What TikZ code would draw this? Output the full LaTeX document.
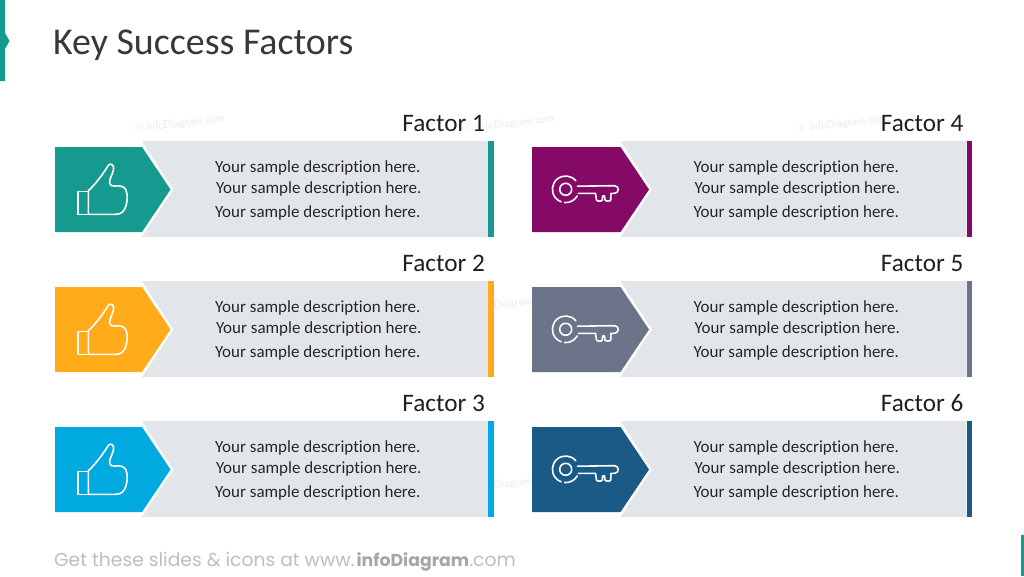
\documentclass[tikz,border=0pt]{standalone}
\usepackage{fontspec}
\setmainfont[Ligatures=NoCommon]{Carlito}
\newfontfamily\footfont{Poppins}
\definecolor{cteal}{HTML}{159A8F}
\definecolor{corange}{HTML}{FFAB1A}
\definecolor{cblue}{HTML}{00A9E0}
\definecolor{cpurple}{HTML}{850A68}
\definecolor{cslate}{HTML}{6B7488}
\definecolor{cnavy}{HTML}{1A5A86}
\definecolor{cband}{HTML}{E2E5EA}
\definecolor{cmark}{HTML}{E3E9F4}
\definecolor{cfoot}{HTML}{BEBEBE}
\definecolor{cfootb}{HTML}{A6A6A6}
\newcommand{\pxfont}[1]{\fontsize{#1}{#1}\selectfont}
\tikzset{
  x=1pt,y=-1pt,
  band/.style={fill=cband,draw=none},
  icon/.style={draw=white,line width=1.6pt,line cap=round,line join=round},
  desc/.style={anchor=base west,inner sep=0pt,text=black!85,font=\pxfont{17}},
  head/.style={anchor=base east,inner sep=0pt,text=black!88,font=\pxfont{25.2}},
  wmark/.style={rotate=7,inner sep=0pt,text=cmark,font=\sffamily\pxfont{11.2}},
}
% #1 name, #2 dx, #3 dy, #4 colour, #5 label, #6 left edge of the arrow
\newcommand{\factorbase}[6]{%
  \begin{scope}[shift={(#2,#3)}]
    \fill[band] (142,141) -- (488,141) -- (488,237) -- (142,237) -- (173.5,189.5) -- cycle;
    \fill[#4] (488,141) rectangle (493.5,237);
    \fill[#4] (142,147) -- (170.5,189.5) -- (142,232) -- (#6,232) -- (#6,147) -- cycle;
    \node[head] (#1h) at (485,131) {#5};
    \node[desc] (#1a) at (215,172.5) {Your sample description here.};
    \node[desc] (#1b) at (216,193.5) {Your sample description here.};
    \node[desc] (#1c) at (215,217.5) {Your sample description here.};
  \end{scope}}
\newcommand{\thumbicon}[2]{%
  \begin{scope}[shift={(#1,#2)}]
    \draw[icon] (88,191.5) -- (77.7,191.5) -- (77.7,214.3) -- (88,214.3);
    \draw[icon] (88.3,214.3) -- (88.3,190.7) .. controls (94,186) and (103,174) .. (107,167.5)
      .. controls (108.5,163.5) and (112,163) .. (113.5,166.5)
      .. controls (115,171) and (109,178) .. (109.5,183)
      .. controls (110,186) and (112,186) .. (115,186)
      .. controls (120,185.5) and (124,186) .. (126,190)
      .. controls (128.5,196) and (127,205) .. (124.5,209.5)
      .. controls (122,213.5) and (119,214.3) .. (115,214.3) -- cycle;
  \end{scope}}
\newcommand{\keyicon}[2]{%
  \begin{scope}[shift={(#1,#2)}]
    \draw[icon] (565.7,189.3) circle[radius=6];
    \draw[icon] (565.7,189.3) ++(-40:13.3) arc[start angle=-40,end angle=-250,radius=13.3];
    \draw[icon] (565.7,189.3) ++(-265:13.3) arc[start angle=-265,end angle=-330,radius=13.3];
    \draw[icon] (577.5,186.2) -- (614.5,185.7) .. controls (619.5,185.7) and (619.5,193.3) .. (614.5,193.3)
      -- (611,193.3) -- (610.7,200) .. controls (610.5,201.5) and (605.5,201.5) .. (605,200)
      -- (604.5,196) -- (602.6,196) -- (602.3,200) .. controls (602,201.5) and (597,201.5) .. (596.5,200)
      -- (595.5,193.3) -- (578.3,193.3);
  \end{scope}}
\begin{document}
\begin{tikzpicture}
\useasboundingbox (0,0) rectangle (1024,576);
\fill[white] (0,0) rectangle (1024,576);
% watermarks
\node[wmark] (m1) at (180,124) {© infoDiagram.com};
\node[wmark] (m2) at (510,124) {© infoDiagram.com};
\node[wmark] (m3) at (843,124) {© infoDiagram.com};
\node[wmark] (m4) at (510,304) {© infoDiagram.com};
\node[wmark] (m5) at (510,484) {© infoDiagram.com};
% corner accents
\fill[cteal] (0,0) -- (5,0) -- (5,33) -- (9.5,41) -- (5,49) -- (5,81) -- (0,81) -- cycle;
\fill[cteal] (1021,535) rectangle (1024,576);
\node[anchor=base west,inner sep=0pt,text=black!78,font=\pxfont{37.9}] (title) at (53,54) {Key Success Factors};
\factorbase{fa}{0}{0}{cteal}{Factor 1}{55}
\factorbase{fb}{0}{140}{corange}{Factor 2}{55}
\factorbase{fc}{0}{280}{cblue}{Factor 3}{55}
\factorbase{fd}{478.5}{0}{cpurple}{Factor 4}{53.5}
\factorbase{fe}{478.5}{140}{cslate}{Factor 5}{53.5}
\factorbase{ff}{478.5}{280}{cnavy}{Factor 6}{53.5}
\thumbicon{0}{0}
\thumbicon{0}{140}
\thumbicon{0}{280}
\keyicon{0}{0}
\keyicon{0}{140}
\keyicon{0}{280}
\node[anchor=base west,inner sep=0pt,text=cfoot,font=\footfont\pxfont{18.7}] (foot) at (54,566)
  {Get these slides \& icons at www.\hspace{2pt}{\color{cfootb}\bfseries\pxfont{17.3}infoDiagram}.com};
\end{tikzpicture}
\end{document}
